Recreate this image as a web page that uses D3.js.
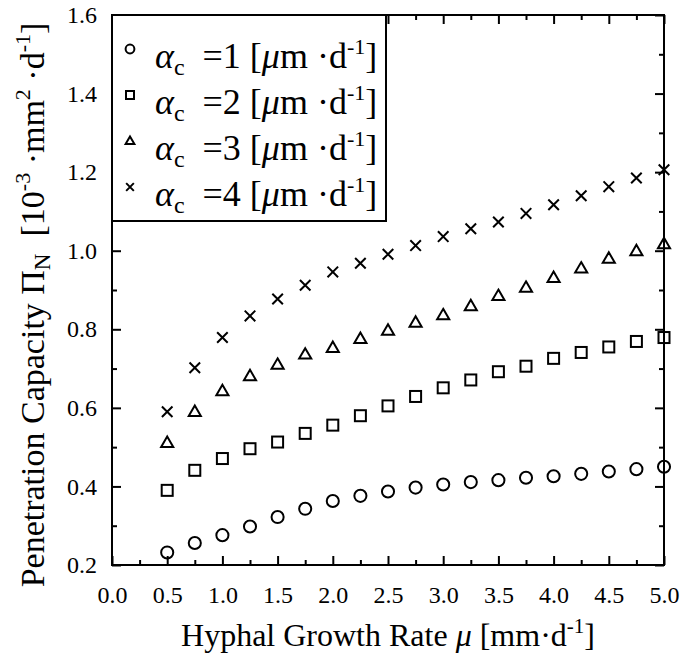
<!DOCTYPE html>
<html>
<head>
<meta charset="utf-8">
<script src="https://cdn.jsdelivr.net/npm/d3@7"></script>
<style>
  body { margin: 0; background: #fff; }
  svg { display: block; }
</style>
</head>
<body>
<svg id="chart" width="685" height="664"></svg>
<script>
// growth rates (mm/d) shared by all four series
const growthRate = [0.5, 0.75, 1.0, 1.25, 1.5, 1.75, 2.0, 2.25, 2.5, 2.75,
                    3.0, 3.25, 3.5, 3.75, 4.0, 4.25, 4.5, 4.75, 5.0];

// penetration capacity, one array per alpha_c
const alpha1 = [0.232, 0.256, 0.276, 0.298, 0.322, 0.343, 0.363, 0.376, 0.387, 0.397,
                0.405, 0.411, 0.416, 0.422, 0.426, 0.432, 0.438, 0.444, 0.450];
const alpha2 = [0.390, 0.441, 0.471, 0.496, 0.513, 0.535, 0.556, 0.580, 0.605, 0.629,
                0.651, 0.671, 0.692, 0.706, 0.726, 0.741, 0.755, 0.769, 0.779];
const alpha3 = [0.511, 0.590, 0.643, 0.681, 0.710, 0.736, 0.753, 0.776, 0.797, 0.817,
                0.836, 0.859, 0.885, 0.906, 0.931, 0.955, 0.980, 0.999, 1.017];
const alpha4 = [0.590, 0.702, 0.779, 0.834, 0.877, 0.912, 0.946, 0.968, 0.991, 1.013,
                1.036, 1.056, 1.073, 1.095, 1.117, 1.140, 1.163, 1.185, 1.206];

const seriesNames = ['1', '2', '3', '4'];
const seriesShapes = ['circle', 'square', 'triangle', 'cross'];

const xTicks = [0, 0.5, 1.0, 1.5, 2.0, 2.5, 3.0, 3.5, 4.0, 4.5, 5.0];
const xMinorTicks = [0.25, 0.75, 1.25, 1.75, 2.25, 2.75, 3.25, 3.75, 4.25, 4.75];
const yTicks = [0.2, 0.4, 0.6, 0.8, 1.0, 1.2, 1.4, 1.6];
const yMinorTicks = [0.3, 0.5, 0.7, 0.9, 1.1, 1.3, 1.5];

const FONT = '"Liberation Serif", "Times New Roman", serif';
const M = { left: 112, right: 664, top: 15, bottom: 565 };

const svg = d3.select('#chart');
const x = d3.scaleLinear().domain([0, 5]).range([M.left, M.right]);
const y = d3.scaleLinear().domain([0.2, 1.6]).range([M.bottom, M.top]);

function styleAxis(g) {
  g.select('.domain').remove();
  g.selectAll('line').style('stroke', '#000').style('stroke-width', '2');
  g.selectAll('text').style('font-family', FONT).style('font-size', '24px').style('fill', '#000');
}

// bottom + top
svg.append('g').attr('transform', `translate(0,${M.bottom})`)
  .call(d3.axisBottom(x).tickValues(xTicks).tickSize(-9).tickPadding(21)
    .tickFormat(d3.format('.1f')))
  .call(styleAxis);
svg.append('g').attr('transform', `translate(0,${M.bottom})`)
  .call(d3.axisBottom(x).tickValues(xMinorTicks).tickSize(-5).tickFormat(''))
  .call(styleAxis);
svg.append('g').attr('transform', `translate(0,${M.top})`)
  .call(d3.axisTop(x).tickValues(xTicks).tickSize(-9).tickFormat(''))
  .call(styleAxis);
svg.append('g').attr('transform', `translate(0,${M.top})`)
  .call(d3.axisTop(x).tickValues(xMinorTicks).tickSize(-5).tickFormat(''))
  .call(styleAxis);

// left + right
svg.append('g').attr('transform', `translate(${M.left},0)`)
  .call(d3.axisLeft(y).tickValues(yTicks).tickSize(-9).tickPadding(15)
    .tickFormat(d3.format('.1f')))
  .call(styleAxis);
svg.append('g').attr('transform', `translate(${M.left},0)`)
  .call(d3.axisLeft(y).tickValues(yMinorTicks).tickSize(-5).tickFormat(''))
  .call(styleAxis);
svg.append('g').attr('transform', `translate(${M.right},0)`)
  .call(d3.axisRight(y).tickValues(yTicks).tickSize(-9).tickFormat(''))
  .call(styleAxis);
svg.append('g').attr('transform', `translate(${M.right},0)`)
  .call(d3.axisRight(y).tickValues(yMinorTicks).tickSize(-5).tickFormat(''))
  .call(styleAxis);

svg.append('rect')
  .attr('x', M.left).attr('y', M.top)
  .attr('width', M.right - M.left).attr('height', M.bottom - M.top)
  .style('fill', 'none').style('stroke', '#000').style('stroke-width', '2');

// markers
function drawMarker(g, shape, s) {
  if (shape === 'circle') {
    g.append('circle').attr('r', s * 0.55);
  } else if (shape === 'square') {
    g.append('rect').attr('x', -s / 2).attr('y', -s / 2).attr('width', s).attr('height', s);
  } else if (shape === 'triangle') {
    const h = s * 0.95;
    g.append('path').attr('d', `M0,${-h * 0.6}L${s * 0.55},${h * 0.4}L${-s * 0.55},${h * 0.4}Z`);
  } else {
    const a = s * 0.48;
    g.append('path').attr('d', `M${-a},${-a}L${a},${a}M${-a},${a}L${a},${-a}`);
  }
  g.selectAll('*').style('fill', 'none').style('stroke', '#000').style('stroke-width', '2');
}

const allSeries = [alpha1, alpha2, alpha3, alpha4];
allSeries.forEach((vals, si) => {
  const g = svg.append('g');
  vals.forEach((v, i) => {
    const mg = g.append('g').attr('transform', `translate(${x(growthRate[i])},${y(v)})`);
    drawMarker(mg, seriesShapes[si], 11);
  });
});

// legend
const LEG = { x: M.left, y: M.top, w: 274, h: 206, rowH: 46 };
const legend = svg.append('g');
legend.append('rect')
  .attr('x', LEG.x).attr('y', LEG.y).attr('width', LEG.w).attr('height', LEG.h)
  .style('fill', '#fff').style('stroke', '#000').style('stroke-width', '2');

seriesNames.forEach((name, i) => {
  const base = LEG.y + 53 + i * LEG.rowH;
  const mg = legend.append('g').attr('transform', `translate(${LEG.x + 18},${base - 19})`);
  drawMarker(mg, seriesShapes[i], 8);
  const t = legend.append('text')
    .attr('x', LEG.x + 43).attr('y', base)
    .style('font-family', FONT).style('font-size', '36px').style('fill', '#000');
  t.append('tspan').style('font-style', 'italic').text('α');
  t.append('tspan').attr('dy', 7).style('font-size', '24px').text('c');
  t.append('tspan').attr('dy', -7).text('\u00a0\u00a0=' + name + ' [');
  t.append('tspan').style('font-style', 'italic').text('μ');
  t.append('tspan').text('m ·d');
  t.append('tspan').attr('dy', -14).style('font-size', '22px').text('-1');
  t.append('tspan').attr('dy', 14).text(']');
});

// x title
const xt = svg.append('text')
  .attr('x', (M.left + M.right) / 2).attr('y', 646)
  .attr('text-anchor', 'middle')
  .style('font-family', FONT).style('font-size', '32px').style('fill', '#000');
xt.append('tspan').text('Hyphal Growth Rate ');
xt.append('tspan').style('font-style', 'italic').text('μ');
xt.append('tspan').text(' [mm·d');
xt.append('tspan').attr('dy', -13).style('font-size', '21px').text('-1');
xt.append('tspan').attr('dy', 13).text(']');

// y title
const yt = svg.append('text')
  .attr('transform', `translate(44,305) rotate(-90)`)
  .attr('text-anchor', 'middle')
  .style('font-family', FONT).style('font-size', '34px').style('fill', '#000');
yt.append('tspan').text('Penetration Capacity Π');
yt.append('tspan').attr('dy', 6).style('font-size', '23px').text('N');
yt.append('tspan').attr('dy', -6).text('\u00a0\u00a0[10');
yt.append('tspan').attr('dy', -14).style('font-size', '22px').text('-3');
yt.append('tspan').attr('dy', 14).text(' ·mm');
yt.append('tspan').attr('dy', -14).style('font-size', '22px').text('2');
yt.append('tspan').attr('dy', 14).text(' ·d');
yt.append('tspan').attr('dy', -14).style('font-size', '22px').text('-1');
yt.append('tspan').attr('dy', 14).text(']');
</script>
</body>
</html>
